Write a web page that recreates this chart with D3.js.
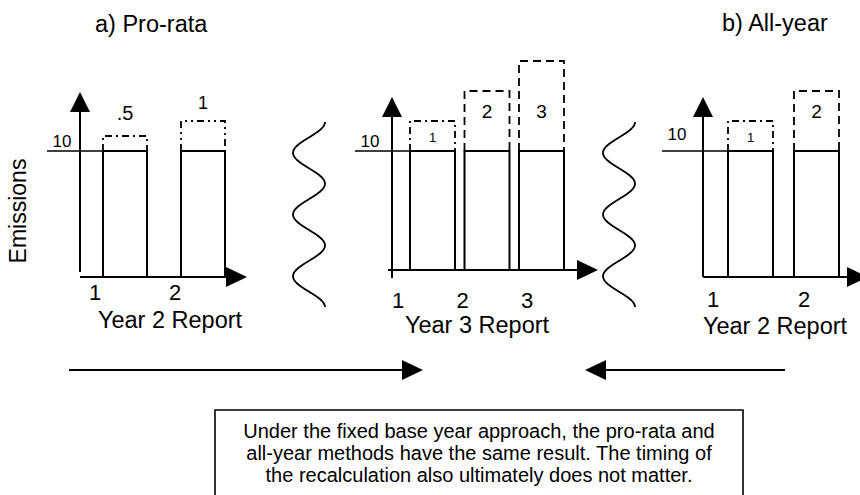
<!DOCTYPE html>
<html><head><meta charset="utf-8">
<script src="https://cdn.jsdelivr.net/npm/d3@7"></script>
<style>html,body{margin:0;padding:0;background:#fff;}svg{display:block;font-family:"Liberation Sans",Arial,sans-serif;}text{fill:#000;}</style>
</head><body>
<svg id="c" width="860" height="495"></svg>
<script>
// ---- data ----
const titles = ["a) Pro-rata", "b) All-year"];
const yAxisTitle = "Emissions";
const baseTickLabel = "10";
const baseValue = 10;

const proRataYears = [1, 2];
const proRataBase = [10, 10];
const proRataIncrease = [0.5, 1];
const proRataLabels = [".5", "1"];
const proRataReport = "Year 2 Report";

const year3Years = [1, 2, 3];
const year3Base = [10, 10, 10];
const year3Increase = [1, 2, 3];
const year3Labels = ["1", "2", "3"];
const year3Report = "Year 3 Report";

const allYearYears = [1, 2];
const allYearBase = [10, 10];
const allYearIncrease = [1, 2];
const allYearLabels = ["1", "2"];
const allYearReport = "Year 2 Report";

const noteLines = [
  "Under the fixed base year approach, the pro-rata and",
  "all-year methods have the same result. The timing of",
  "the recalculation also ultimately does not matter."
];

// ---- layout ----
const svg = d3.select("#c");
const incScale = d3.scaleLinear().domain([0, 1]).range([0, 30]);

const panels = [
  {years: proRataYears, base: proRataBase, inc: proRataIncrease, labels: proRataLabels, report: proRataReport,
   axisX: 80, axisTop: 92, axisBottom: 272, xAxisY: 277, xStart: 80, xTip: 247,
   barStart: 103, barEnd: 225, bw: 44, lineStart: 47, tenX: 62, tenY: 147,
   tickRange: [95, 175], tickY: 300, reportX: 170, reportY: 328,
   labelMode: "above"},
  {years: year3Years, base: year3Base, inc: year3Increase, labels: year3Labels, report: year3Report,
   axisX: 392, axisTop: 97, axisBottom: 278, xAxisY: 270, xStart: 388, xTip: 598,
   barStart: 410, barEnd: 564, bw: 45, lineStart: 355, tenX: 370, tenY: 147,
   tickRange: [398, 527], tickY: 308, reportX: 477, reportY: 333,
   labelMode: "inside", bigLabelY: 118},
  {years: allYearYears, base: allYearBase, inc: allYearIncrease, labels: allYearLabels, report: allYearReport,
   axisX: 703, axisTop: 97, axisBottom: 277, xAxisY: 277, xStart: 703, xTip: 868,
   barStart: 728, barEnd: 839, bw: 45, lineStart: 662, tenX: 677, tenY: 140,
   tickRange: [713, 804], tickY: 307, reportX: 775, reportY: 334,
   labelMode: "inside", bigLabelY: 118}
];

const ink = "#000";

function arrowUp(g, x, tipY) {
  g.append("path").attr("d", `M${x},${tipY} L${x-10},${tipY+20} L${x+10},${tipY+20} Z`).attr("fill", ink);
}
function arrowRight(g, tipX, y) {
  g.append("path").attr("d", `M${tipX},${y} L${tipX-21},${y-10} L${tipX-21},${y+10} Z`).attr("fill", ink);
}
function arrowLeft(g, tipX, y) {
  g.append("path").attr("d", `M${tipX},${y} L${tipX+21},${y-10} L${tipX+21},${y+10} Z`).attr("fill", ink);
}

panels.forEach(p => {
  const g = svg.append("g");
  const n = p.years.length;
  const step = (p.barEnd - p.barStart - p.bw) / (n - 1);
  const x = d3.scaleBand().domain(p.years).range([p.barStart, p.barEnd])
    .paddingInner(1 - p.bw / step).paddingOuter(0);
  const y = d3.scaleLinear().domain([0, baseValue]).range([p.xAxisY, 151]);
  const tx = d3.scalePoint().domain(p.years).range(p.tickRange);

  // base reference line at 10
  g.append("line").attr("x1", p.lineStart).attr("x2", x(p.years[0]) + x.bandwidth())
    .attr("y1", y(baseValue)).attr("y2", y(baseValue)).attr("stroke", ink).attr("stroke-width", 1.6);
  g.append("text").attr("x", p.tenX).attr("y", p.tenY).attr("text-anchor", "middle")
    .attr("font-size", 17).text(baseTickLabel);

  p.years.forEach((yr, i) => {
    const x0 = x(yr), x1 = x0 + x.bandwidth();
    g.append("path").attr("d", `M${x0},${y(0)} L${x0},${y(p.base[i])} L${x1},${y(p.base[i])} L${x1},${y(0)}`)
      .attr("fill", "none").attr("stroke", ink).attr("stroke-width", 2);
    const h = incScale(p.inc[i]);
    const top = y(p.base[i]) - h;
    g.append("path").attr("d", `M${x0},${y(p.base[i])} L${x0},${top} L${x1},${top} L${x1},${y(p.base[i])}`)
      .attr("fill", "none").attr("stroke", ink).attr("stroke-width", 1.8)
      .attr("stroke-dasharray", p.inc[i] >= 2 ? "8,5" : (p.labelMode === "above" && i === 1 ? "7,4,2,4,2,4" : "7,4,2,4"));
    let ly, fs;
    if (p.labelMode === "above") { ly = top - (i === 0 ? 16 : 12); fs = i === 0 ? 20 : 18; }
    else if (p.inc[i] < 2) { ly = y(p.base[i]) - 9; fs = 13; }
    else { ly = p.bigLabelY; fs = 19; }
    g.append("text").attr("x", x0 + x.bandwidth() / 2).attr("y", ly).attr("text-anchor", "middle")
      .attr("font-size", fs).text(p.labels[i]);
    g.append("text").attr("x", tx(yr)).attr("y", p.tickY).attr("text-anchor", "middle")
      .attr("font-size", 22).text(yr);
  });

  g.append("line").attr("x1", p.axisX).attr("x2", p.axisX).attr("y1", p.axisTop + 10).attr("y2", p.axisBottom)
    .attr("stroke", ink).attr("stroke-width", 2);
  arrowUp(g, p.axisX, p.axisTop);
  g.append("line").attr("x1", p.xStart).attr("x2", p.xTip - 10).attr("y1", p.xAxisY).attr("y2", p.xAxisY)
    .attr("stroke", ink).attr("stroke-width", 2);
  arrowRight(g, p.xTip, p.xAxisY);

  g.append("text").attr("x", p.reportX).attr("y", p.reportY).attr("text-anchor", "middle")
    .attr("font-size", 23.5).text(p.report);
});

svg.append("text").attr("x", 95).attr("y", 32).attr("font-size", 23.5).text(titles[0]);
svg.append("text").attr("x", 722).attr("y", 31).attr("font-size", 23.5).text(titles[1]);

svg.append("text").attr("transform", "translate(26,211) rotate(-90)").attr("text-anchor", "middle")
  .attr("font-size", 23).text(yAxisTitle);

[309, 619].forEach(cx => {
  const pts = d3.range(0, 186, 1).map(t => [cx + 16 * Math.cos(2 * Math.PI * t / 61.7), 122 + t]);
  svg.append("path").attr("d", d3.line().curve(d3.curveBasis)(pts)).attr("fill", "none")
    .attr("stroke", ink).attr("stroke-width", 1.8);
});

svg.append("line").attr("x1", 69).attr("x2", 410).attr("y1", 370).attr("y2", 370).attr("stroke", ink).attr("stroke-width", 1.8);
arrowRight(svg, 423, 370);
svg.append("line").attr("x1", 598).attr("x2", 785).attr("y1", 370).attr("y2", 370).attr("stroke", ink).attr("stroke-width", 1.8);
arrowLeft(svg, 585, 370);

svg.append("path").attr("d", "M215,500 L215,410 L743,410 L743,500").attr("fill", "none")
  .attr("stroke", ink).attr("stroke-width", 1.6);
noteLines.forEach((t, i) => {
  svg.append("text").attr("x", 479).attr("y", 438 + i * 22).attr("text-anchor", "middle")
    .attr("font-size", 20).text(t);
});
</script>
</body></html>
